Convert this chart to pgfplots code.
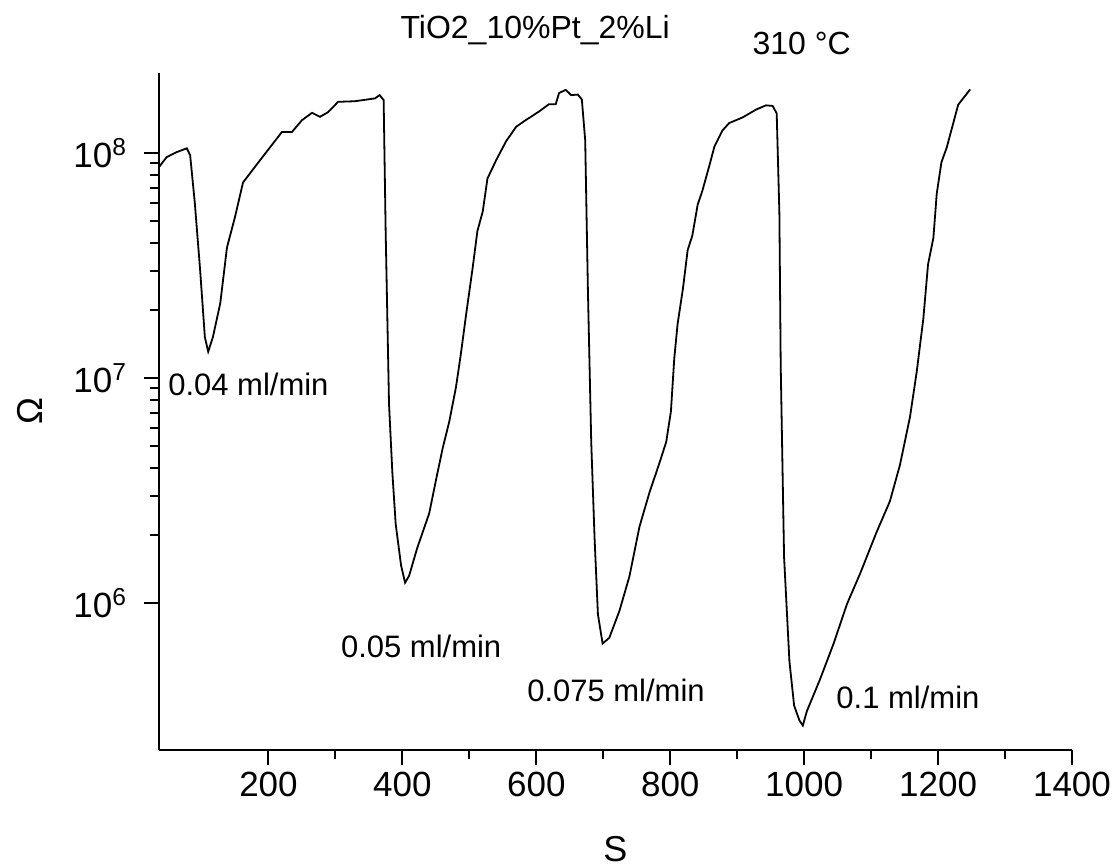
\documentclass[border=0pt]{standalone}
\usepackage{fontspec}
\setmainfont{Liberation Sans}
\usepackage{pgfplots}
\pgfplotsset{compat=1.18}

\pgfplotstableread{
x y
37 8.7e7
48 9.6e7
63 1.01e8
78 1.05e8
83 9.8e7
90 6.0e7
98 3.0e7
105 1.52e7
110 1.31e7
117 1.52e7
128 2.15e7
138 3.8e7
150 5.2e7
162 7.4e7
180 8.7e7
199 1.03e8
220 1.24e8
235 1.24e8
250 1.40e8
265 1.51e8
277 1.45e8
289 1.52e8
304 1.69e8
329 1.70e8
359 1.75e8
366 1.81e8
372 1.72e8
375 4.5e7
380 7.7e6
385 3.8e6
390 2.24e6
398 1.47e6
404 1.23e6
410 1.32e6
422 1.75e6
440 2.5e6
450 3.5e6
460 4.85e6
470 6.4e6
480 9.1e6
487 1.26e7
495 1.9e7
505 3.1e7
512 4.5e7
520 5.5e7
527 7.7e7
540 9.3e7
555 1.13e8
570 1.31e8
584 1.40e8
604 1.53e8
619 1.65e8
629 1.65e8
634 1.85e8
644 1.91e8
652 1.81e8
662 1.82e8
668 1.73e8
673 1.14e8
677 2.5e7
682 5.2e6
687 1.94e6
692 8.9e5
699 6.6e5
709 7.0e5
724 9.2e5
739 1.31e6
754 2.18e6
769 3.1e6
784 4.2e6
794 5.2e6
801 7.1e6
806 1.22e7
811 1.74e7
819 2.5e7
826 3.7e7
833 4.3e7
841 5.9e7
848 6.8e7
858 8.7e7
866 1.07e8
878 1.26e8
888 1.36e8
908 1.44e8
928 1.56e8
943 1.63e8
953 1.62e8
959 1.50e8
963 5.4e7
965 1.13e7
970 1.6e6
978 5.5e5
985 3.5e5
993 3.0e5
998 2.85e5
1004 3.3e5
1024 4.6e5
1044 6.6e5
1064 9.9e5
1084 1.36e6
1108 2.06e6
1128 2.83e6
1143 4.1e6
1158 6.7e6
1168 1.06e7
1178 1.84e7
1185 3.2e7
1193 4.2e7
1198 6.6e7
1205 9.1e7
1213 1.06e8
1223 1.37e8
1230 1.64e8
1248 1.92e8
}\sensor

\begin{document}
\begin{tikzpicture}
\begin{axis}[
    width=456.5bp, height=338.5bp, scale only axis,
    xmin=36.5, xmax=1400,
    ymode=log, ymin=2.22e5, ymax=2.27e8,
    axis x line*=bottom, axis y line*=left,
    axis line style={line width=1.3bp},
    tick style={black, line width=1bp},
    tick align=outside,
    major tick length=7.5bp, minor tick length=4.5bp,
    xtick={200,400,...,1400}, minor x tick num=1,
    ytick={1e6,1e7,1e8},
    yticklabels={10\textsuperscript{6},10\textsuperscript{7},10\textsuperscript{8}},
    yticklabel style={xshift=-5bp},
    /pgf/number format/assume math mode=true,
    /pgf/number format/1000 sep={},
    ticklabel style={font=\fontsize{17.5bp}{20bp}\selectfont},
    clip=false,
]
\addplot[black, line width=0.9bp] table {\sensor};

\node[font=\fontsize{18bp}{20bp}\selectfont] at (rel axis cs:0.5,-0.146) {S};
\node[font=\fontsize{18bp}{20bp}\selectfont, rotate=90] at (rel axis cs:-0.141,0.5) {Ω};
\node[font=\fontsize{16bp}{18bp}\selectfont] at (rel axis cs:0.412,1.064) {TiO2\_10\%Pt\_2\%Li};
\node[font=\fontsize{16bp}{18bp}\selectfont] at (rel axis cs:0.704,1.043) {310 °C};

\node[font=\fontsize{15.5bp}{18bp}\selectfont] at (axis cs:170,9.4e6) {0.04 ml/min};
\node[font=\fontsize{15.5bp}{18bp}\selectfont] at (axis cs:428,6.4e5) {0.05 ml/min};
\node[font=\fontsize{15.5bp}{18bp}\selectfont] at (axis cs:719,4.1e5) {0.075 ml/min};
\node[font=\fontsize{15.5bp}{18bp}\selectfont] at (axis cs:1155,3.82e5) {0.1 ml/min};

\coordinate (bbll) at (rel axis cs:-0.17415,-0.1743);
\coordinate (bbur) at (rel axis cs:1.04491,1.10783);
\end{axis}
\pgfresetboundingbox
\path[use as bounding box] (bbll) rectangle (bbur);
\end{tikzpicture}
\end{document}
